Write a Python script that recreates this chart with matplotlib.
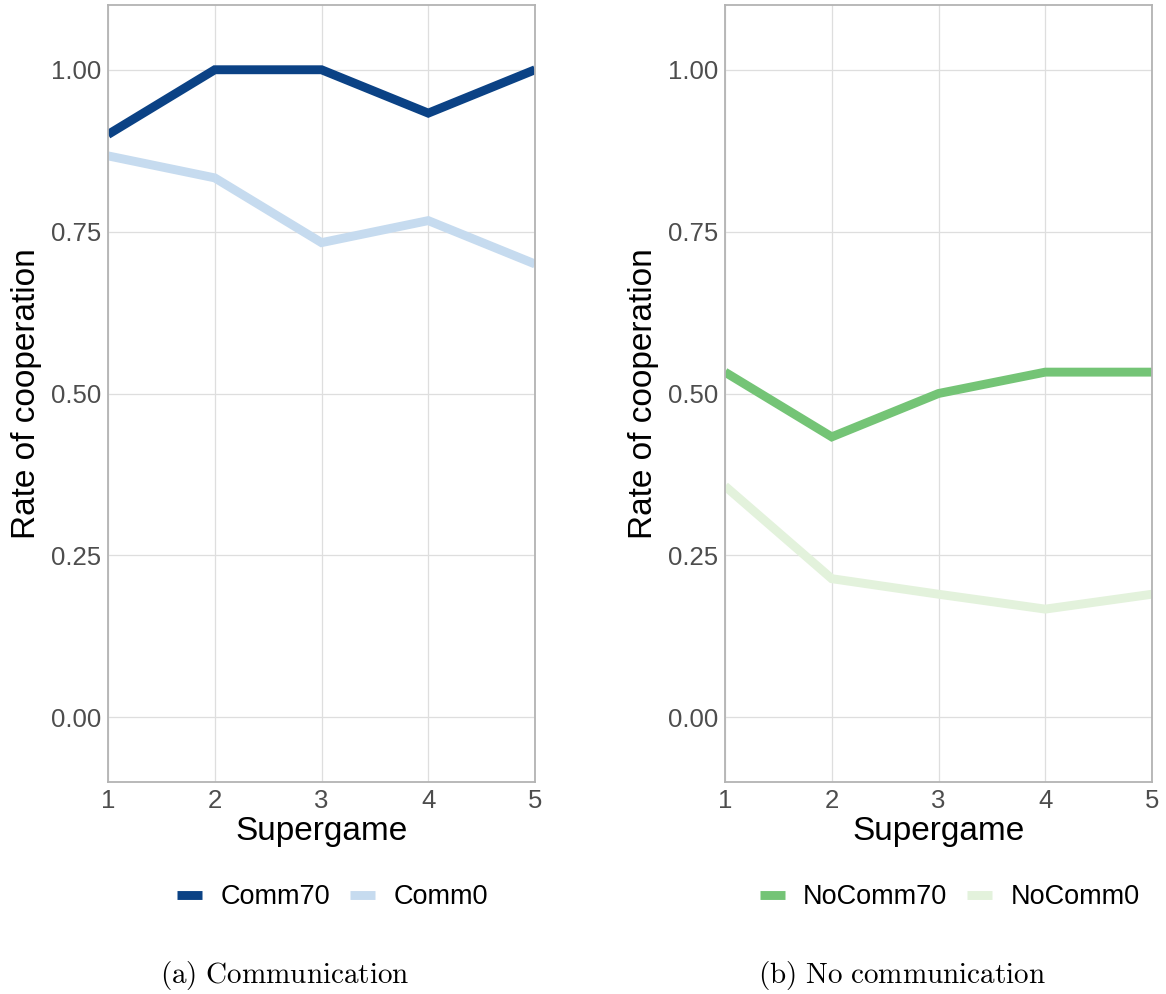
import matplotlib.pyplot as plt
from matplotlib.lines import Line2D

plt.rcParams['font.family'] = ['Liberation Sans', 'DejaVu Sans']
plt.rcParams['mathtext.fontset'] = 'cm'

supergame = [1, 2, 3, 4, 5]
comm70 = [0.90, 1.00, 1.00, 0.933, 1.00]
comm0 = [0.867, 0.833, 0.733, 0.767, 0.70]
nocomm70 = [0.533, 0.433, 0.50, 0.533, 0.533]
nocomm0 = [0.357, 0.214, 0.19, 0.167, 0.19]
yticks = [0.0, 0.25, 0.5, 0.75, 1.0]

panels = [
    ([("Comm70", comm70, "#0b4285"), ("Comm0", comm0, "#c6dbef")],
     r"$\mathrm{(a)\ Communication}$", 285),
    ([("NoComm70", nocomm70, "#74c476"), ("NoComm0", nocomm0, "#e3f2dc")],
     r"$\mathrm{(b)\ No\ communication}$", 902),
]

fig = plt.figure(figsize=(11.66, 9.94), dpi=100)
W, H = 1166, 994
lefts = [108, 725]
for (series, caption, cx), lx in zip(panels, lefts):
    ax = fig.add_axes([lx / W, 1 - 782 / H, 427 / W, 777 / H])
    handles = []
    for name, vals, col in series:
        ax.plot(supergame, vals, color=col, lw=6.4, solid_capstyle='butt',
                solid_joinstyle='miter', label=name)
        handles.append(Line2D([], [], color=col, lw=6.4, solid_capstyle='butt'))
    ax.set_xlim(1, 5)
    ax.set_ylim(-0.1, 1.1)
    ax.set_xticks(supergame)
    ax.set_yticks(yticks)
    ax.set_yticklabels([f"{v:.2f}" for v in yticks])
    ax.grid(True, color="#dedede", lw=0.9)
    ax.set_axisbelow(True)
    for s in ax.spines.values():
        s.set_color("#b3b3b3")
        s.set_linewidth(1.3)
    ax.tick_params(length=0, labelsize=18.5, labelcolor="#4d4d4d", pad=5)
    ax.set_xlabel("Supergame", fontsize=24, labelpad=2)
    ax.set_ylabel("Rate of cooperation", fontsize=24, labelpad=6)
    ax.legend(handles, [s[0] for s in series], loc='center',
              bbox_to_anchor=(0.526, -0.1485), ncol=2, frameon=False, fontsize=19.5,
              handlelength=0.92, columnspacing=0.75, handletextpad=0.67)
    fig.text(cx / W, 1 - 975 / H, caption, ha='center', va='center',
             fontsize=21)

fig.savefig("out.png", dpi=100)
